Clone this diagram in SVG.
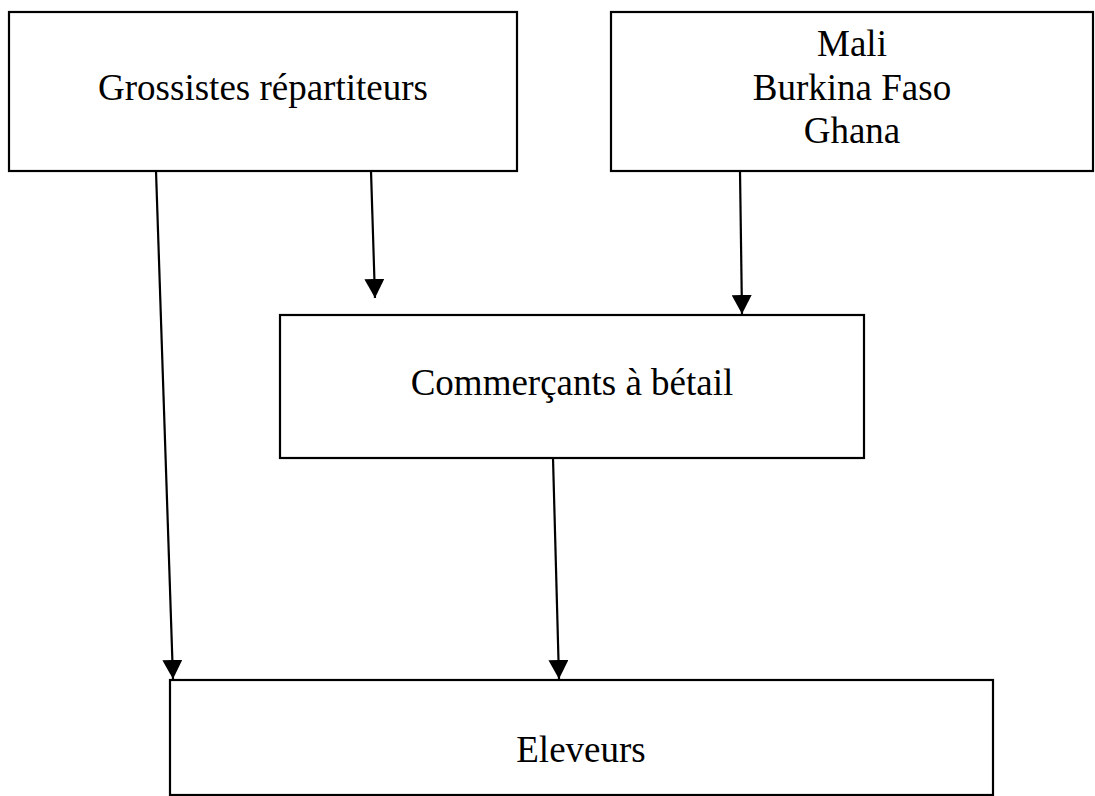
<svg xmlns="http://www.w3.org/2000/svg" width="1095" height="796" viewBox="0 0 1095 796">
  <style>
    .box { fill: #ffffff; stroke: #000000; stroke-width: 2.2; }
    .lbl { font-family: "Liberation Serif", "Times New Roman", serif; font-size: 37px; fill: #000000; text-anchor: middle; }
    .conn { stroke: #000000; stroke-width: 2.2; fill: none; marker-end: url(#arrow); }
  </style>
  <defs>
    <marker id="arrow" markerUnits="userSpaceOnUse" markerWidth="19" markerHeight="20" refX="19" refY="10" orient="auto" viewBox="0 0 19 20">
      <path d="M0,0 L19,10 L0,20 Z" fill="#000000"/>
    </marker>
  </defs>
  <rect x="0" y="0" width="1095" height="796" fill="#ffffff"/>

  <g id="node-grossistes">
    <rect class="box" x="9" y="12" width="508" height="159"/>
    <text class="lbl" x="263" y="100">Grossistes répartiteurs</text>
  </g>

  <g id="node-pays">
    <rect class="box" x="611" y="12" width="482" height="159"/>
    <text class="lbl" x="852" y="56">Mali</text>
    <text class="lbl" x="852" y="100">Burkina Faso</text>
    <text class="lbl" x="852" y="143">Ghana</text>
  </g>

  <g id="node-commercants">
    <rect class="box" x="280" y="315" width="584" height="143"/>
    <text class="lbl" x="572" y="395">Commerçants à bétail</text>
  </g>

  <g id="node-eleveurs">
    <rect class="box" x="170" y="680" width="823" height="115"/>
    <text class="lbl" x="581" y="762">Eleveurs</text>
  </g>

  <g id="connectors">
    <line class="conn" x1="156" y1="171" x2="173" y2="679"/>
    <line class="conn" x1="371" y1="171" x2="375" y2="298"/>
    <line class="conn" x1="740" y1="171" x2="742" y2="314"/>
    <line class="conn" x1="553" y1="458" x2="559" y2="679"/>
  </g>
</svg>
